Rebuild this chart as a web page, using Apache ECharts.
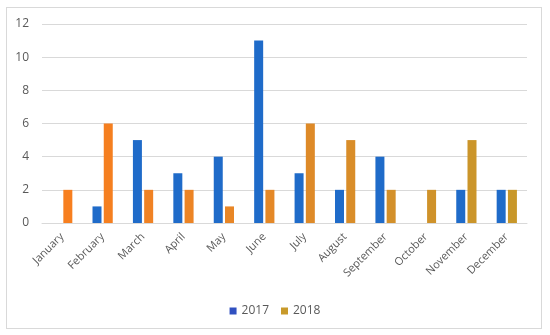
<!DOCTYPE html>
<html><head><meta charset="utf-8">
<script src="https://cdn.jsdelivr.net/npm/echarts@6/dist/echarts.min.js"></script>
<style>html,body{margin:0;padding:0;background:#fff}#c{width:550px;height:335px}
#frame{position:absolute;left:6px;top:7px;width:536px;height:322px;border:1px solid #d9d9d9;box-sizing:border-box;pointer-events:none}</style>
</head><body><div id="c"></div><div id="frame"></div>
<script>
var months = ["January","February","March","April","May","June","July","August","September","October","November","December"];
var s2017 = [0,1,5,3,4,11,3,2,4,0,2,2];
var s2018 = [2,6,2,2,1,2,6,5,2,2,5,2];
var yTicks = [0,2,4,6,8,10,12];
var c2018 = ["#f77f1f","#f57f20","#f08224","#ec8425","#e88626","#e48827","#de8a28","#d98d29","#d3902a","#cf922a","#cb952a","#c8972a"];
var chart = echarts.init(document.getElementById('c'));
chart.setOption({
  animation:false,
  grid:{left:42,right:23,top:24,bottom:112},
  legend:{top:300,left:'center',itemWidth:7,itemHeight:7,itemGap:12,icon:'rect',
    textStyle:{color:'#595959',fontSize:12,fontFamily:'Open Sans'},
    data:[{name:'2017',itemStyle:{color:'#3050c0'}},{name:'2018',itemStyle:{color:'#c89a2a'}}]},
  xAxis:{type:'category',data:months,axisTick:{show:false},
    axisLine:{lineStyle:{color:'#d9d9d9'}},
    axisLabel:{rotate:45,color:'#595959',fontSize:11,fontFamily:'Open Sans',interval:0,margin:12}},
  yAxis:{type:'value',min:0,max:12,interval:2,
    axisLabel:{color:'#595959',fontSize:12,fontFamily:'Open Sans',margin:13},
    splitLine:{lineStyle:{color:'#d9d9d9'}}},
  series:[
    {name:'2017',type:'bar',data:s2017,barWidth:9,barGap:'25%',
      itemStyle:{color:'#1f6bc9'}},
    {name:'2018',type:'bar',data:s2018,barWidth:9,
      itemStyle:{color:function(p){return c2018[p.dataIndex];}}}
  ]
});
</script></body></html>
